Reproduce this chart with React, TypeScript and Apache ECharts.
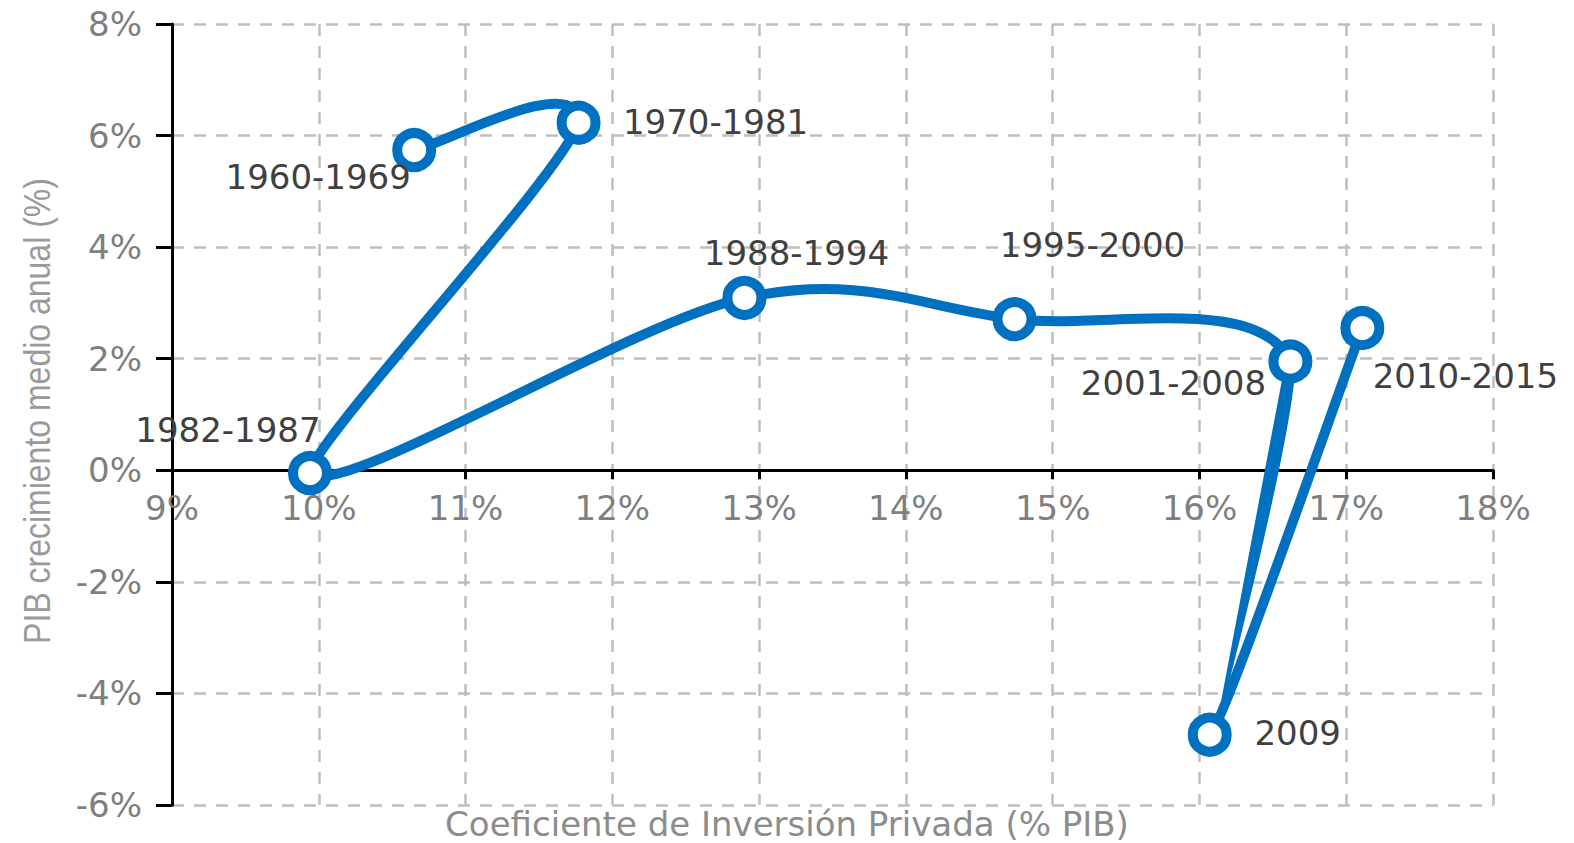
import React, { useEffect, useRef } from "react";
import * as echarts from "echarts";

// Data
const periods = [
  "1960-1969",
  "1970-1981",
  "1982-1987",
  "1988-1994",
  "1995-2000",
  "2001-2008",
  "2009",
  "2010-2015",
];
// Coeficiente de Inversión Privada (% PIB)
const inversion = [10.65, 11.77, 9.94, 12.9, 14.74, 16.62, 16.07, 17.11];
// PIB crecimiento medio anual (%)
const crecimiento = [5.74, 6.23, -0.05, 3.09, 2.71, 1.95, -4.74, 2.55];

// Axis ranges / ticks
const xMin = 9;
const xMax = 18;
const xStep = 1;
const yMin = -6;
const yMax = 8;
const yStep = 2;

const xAxisName = "Coeficiente de Inversión Privada (% PIB)";
const yAxisName = "PIB crecimiento medio anual (%)";

// Label placement (pixel offsets of each label centre from its point)
const labelOffsets: number[][] = [
  [-96, 27],
  [137, -1],
  [-82, -43],
  [52, -45],
  [78, -74],
  [-117, 21],
  [88, -2],
  [103, 48],
];

const BLUE = "#0070C0";
const FONT = "DejaVu Sans";

const GRID = { left: 172, right: 81, top: 24, bottom: 38 };
const CHART_H = 843;

// Cardinal (Catmull-Rom) smoothing, control points kept inside each segment's x-range
function smoothPath(pts: number[][]): string {
  if (!pts.length) return "";
  const clampX = (v: number, a: number, b: number) =>
    Math.min(Math.max(v, Math.min(a, b)), Math.max(a, b));
  let d = `M${pts[0][0]},${pts[0][1]}`;
  for (let i = 0; i < pts.length - 1; i++) {
    const p0 = pts[i - 1] || pts[i];
    const p1 = pts[i];
    const p2 = pts[i + 1];
    const p3 = pts[i + 2] || pts[i + 1];
    let c1x = p1[0] + (p2[0] - p0[0]) / 6;
    const c1y = p1[1] + (p2[1] - p0[1]) / 6;
    let c2x = p2[0] - (p3[0] - p1[0]) / 6;
    const c2y = p2[1] - (p3[1] - p1[1]) / 6;
    c1x = clampX(c1x, p1[0], p2[0]);
    c2x = clampX(c2x, p1[0], p2[0]);
    d += ` C${c1x},${c1y} ${c2x},${c2y} ${p2[0]},${p2[1]}`;
  }
  return d;
}

export default function App() {
  const ref = useRef<HTMLDivElement>(null);

  useEffect(() => {
    if (!ref.current) return;
    const chart = echarts.init(ref.current, undefined, { renderer: "svg" });

    const gridLine = {
      show: true,
      lineStyle: { type: [12, 10] as any, color: "#bfbfbf", width: 2.5 },
    };

    const plotH = CHART_H - GRID.top - GRID.bottom;
    const zeroFromBottom = (plotH * (0 - yMin)) / (yMax - yMin);

    const points = inversion.map((x, i) => [x, crecimiento[i]]);

    const option: any = {
      animation: false,
      backgroundColor: "#ffffff",
      grid: { ...GRID, containLabel: false },
      xAxis: {
        type: "value",
        min: xMin,
        max: xMax,
        interval: xStep,
        offset: -zeroFromBottom,
        axisLine: { onZero: false, lineStyle: { color: "#000", width: 3 } },
        axisTick: { show: true, length: 9, lineStyle: { color: "#000", width: 3 } },
        axisLabel: {
          formatter: "{value}%",
          color: "#7f7f7f",
          fontSize: 34,
          fontFamily: FONT,
          margin: 21,
        },
        splitLine: gridLine,
      },
      yAxis: {
        type: "value",
        min: yMin,
        max: yMax,
        interval: yStep,
        axisLine: { show: true, onZero: false, lineStyle: { color: "#000", width: 3 } },
        axisTick: { show: true, length: 16, lineStyle: { color: "#000", width: 3 } },
        axisLabel: {
          formatter: "{value}%",
          color: "#7f7f7f",
          fontSize: 34,
          fontFamily: FONT,
          margin: 30,
        },
        splitLine: gridLine,
      },
      series: [
        {
          type: "custom",
          coordinateSystem: "cartesian2d",
          data: points,
          clip: false,
          silent: true,
          z: 2,
          renderItem: (params: any, api: any) => {
            if (params.dataIndex !== 0) return null;
            const px = points.map((p) => api.coord(p));
            return {
              type: "path",
              shape: { pathData: smoothPath(px) },
              style: {
                fill: "none",
                stroke: BLUE,
                lineWidth: 10,
                lineJoin: "round",
                lineCap: "round",
              },
            };
          },
        },
        {
          type: "scatter",
          data: periods.map((p, i) => ({
            name: p,
            value: [inversion[i], crecimiento[i]],
            label: { offset: labelOffsets[i] },
          })),
          symbol: "circle",
          symbolSize: 34,
          clip: false,
          itemStyle: { color: "#ffffff", borderColor: BLUE, borderWidth: 10, opacity: 1 },
          label: {
            show: true,
            position: "inside",
            formatter: "{b}",
            color: "#404040",
            fontSize: 34,
            fontFamily: FONT,
          },
          z: 3,
        },
      ],
      graphic: [
        {
          type: "text",
          x: 787,
          y: 824,
          style: {
            text: xAxisName,
            fontSize: 34,
            fontFamily: FONT,
            fill: "#8c8c8c",
            align: "center",
            verticalAlign: "middle",
          },
        },
        {
          type: "text",
          x: 37,
          y: 411,
          rotation: Math.PI / 2,
          scaleY: 1.17,
          style: {
            text: yAxisName,
            fontSize: 32,
            fontFamily: "Liberation Sans",
            fill: "#9a9a9a",
            align: "center",
            verticalAlign: "middle",
          },
        },
      ],
    };

    chart.setOption(option);
    return () => chart.dispose();
  }, []);

  return (
    <div
      ref={ref}
      style={{ position: "absolute", left: 0, top: 0, width: 1574, height: 843 }}
    />
  );
}
